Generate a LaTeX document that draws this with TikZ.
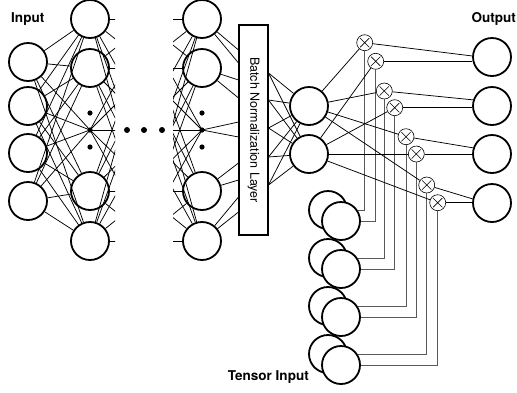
\documentclass[tikz,border=0pt]{standalone}
\usepackage{fontspec}
\setmainfont{TeX Gyre Heros}
\usetikzlibrary{calc}
\begin{document}
\begin{tikzpicture}[x=1pt,y=-1pt,
  neuron/.style={circle, draw, line width=1.8pt, minimum size=38pt, inner sep=0pt, fill=white},
  mult/.style={circle, draw, line width=0.6pt, minimum size=16pt, inner sep=0pt, fill=white,
    path picture={\draw[line width=0.6pt] (path picture bounding box.center)
      +(-4.6pt,-4.6pt) -- +(4.6pt,4.6pt) +(-4.6pt,4.6pt) -- +(4.6pt,-4.6pt);}},
  conn/.style={line width=0.75pt},
  feed/.style={line width=0.75pt, black!65},
  lbl/.style={font=\fontsize{13.5}{16}\selectfont\bfseries, inner sep=0pt},
  hubdot/.style={fill=black}]
\useasboundingbox (0,0) rectangle (517,392);

% ---------- input layer and the two visible hidden layers ----------
\foreach \i/\y in {1/62,2/106,3/153,4/201}
  \node[neuron] (in\i) at (28,\y) {};
\foreach \i/\y in {1/19,2/68,4/191,5/241}{
  \node[neuron] (a\i) at (90,\y) {};
  \node[neuron] (b\i) at (202,\y) {};
}
\coordinate (a3) at (90,130);
\coordinate (b3) at (202,130);
% layers that are only hinted at (their edges are cut off)
\foreach \i/\y in {1/19,2/68,3/130,4/191,5/241}{
  \coordinate (na\i) at (152,\y);
  \coordinate (pb\i) at (140,\y);
}

% input -> first hidden layer
\foreach \i in {1,...,4}
  \foreach \j in {1,...,5}
    \draw[conn] (in\i) -- (a\j);

% stubs leaving the first hidden layer
\begin{scope}
  \clip (90,0) rectangle (115,392);
  \foreach \i in {1,...,5}
    \foreach \j in {1,...,5}
      \draw[conn] (a\i) -- (na\j);
\end{scope}
% stubs entering the last hidden layer
\begin{scope}
  \clip (173,0) rectangle (202,392);
  \foreach \i in {1,...,5}
    \foreach \j in {1,...,5}
      \draw[conn] (pb\j) -- (b\i);
\end{scope}

% vertical ellipses inside the layers and the horizontal one between them
\foreach \x in {90,202}{
  \fill[hubdot] (\x,113) circle[radius=2.6pt];
  \fill[hubdot] (\x,130) circle[radius=2.6pt];
  \fill[hubdot] (\x,147) circle[radius=2.6pt];
}
\foreach \x in {127,144,162}
  \fill[hubdot] (\x,130) circle[radius=3pt];

% ---------- batch normalization ----------
\node[draw, line width=1.8pt, minimum width=29pt, minimum height=210pt, inner sep=0pt, fill=white]
  (bn) at (253.5,130) {};
\node[rotate=-90, font=\fontsize{12.5}{14}\selectfont, inner sep=0pt] (bntext) at (bn.center) {Batch Normalization Layer};

\foreach \k/\y in {1/50,2/63,3/80,4/98,5/122,6/137,7/163,8/180,9/197,10/212}
  \coordinate (bl\k) at (238.5,\y);
\foreach \k/\y in {1/73,2/100,3/128,4/157,5/185}
  \coordinate (br\k) at (268.5,\y);

\draw[conn] (b1) -- (bl1);  \draw[conn] (b1) -- (bl2);
\draw[conn] (b2) -- (bl3);  \draw[conn] (b2) -- (bl4);
\draw[conn] (b3) -- (bl5);  \draw[conn] (b3) -- (bl6);
\draw[conn] (b4) -- (bl7);  \draw[conn] (b4) -- (bl8);
\draw[conn] (b5) -- (bl9);  \draw[conn] (b5) -- (bl10);

% ---------- layer after normalization ----------
\node[neuron] (c1) at (309,106) {};
\node[neuron] (c2) at (309,154) {};
\foreach \k in {1,...,5}{
  \draw[conn] (br\k) -- (c1);
  \draw[conn] (br\k) -- (c2);
}

% ---------- outputs ----------
\foreach \i/\y in {1/57,2/106,3/154,4/203}
  \node[neuron] (out\i) at (492,\y) {};

% ---------- tensor input (pairs of stacked units) ----------
\foreach \k in {0,...,3}{
  \node[neuron] (tb\k) at (328,{210+48*\k}) {};
  \node[neuron] (tf\k) at (341,{221+48*\k}) {};
}

% ---------- multiplication units ----------
\foreach \i/\x/\y in {1/364.7/42.7, 2/375.7/61.3, 3/384.3/91, 4/394.7/107.7,
                      5/406/136.7, 6/416.3/154, 7/426.7/185, 8/437.7/202.7}
  \node[mult] (m\i) at (\x,\y) {};

% tensor input feeds the multipliers
\draw[feed] (m1) |- (tf0.32);  \draw[feed] (m2) |- (tf0.east);
\draw[feed] (m3) |- (tf1.32);  \draw[feed] (m4) |- (tf1.east);
\draw[feed] (m5) |- (tf2.32);  \draw[feed] (m6) |- (tf2.east);
\draw[feed] (m7) |- (tf3.32);  \draw[feed] (m8) |- (tf3.east);

% normalized units feed the multipliers
\foreach \i in {1,3,5,7} \draw[conn] (c1) -- (m\i);
\foreach \i in {2,4,6,8} \draw[conn] (c2) -- (m\i);

% multipliers -> outputs
\draw[conn] (m1) -- (out1.177);  \draw[conn] (m2) -- (m2 -| out1.west);
\draw[conn] (m3) -- (out2.162);  \draw[conn] (m4) -- (m4 -| out2.west);
\draw[conn] (m5) -- (out3.162);  \draw[conn] (m6) -- (m6 -| out3.west);
\draw[conn] (m7) -- (out4.168);  \draw[conn] (m8) -- (m8 -| out4.west);

% ---------- labels ----------
\node[lbl, anchor=base west] (lin) at (11,22.5) {Input};
\node[lbl, anchor=base east] (lout) at (516,22.5) {Output};
\node[lbl, anchor=base east] (ltin) at (309,380) {Tensor Input};
\end{tikzpicture}
\end{document}
